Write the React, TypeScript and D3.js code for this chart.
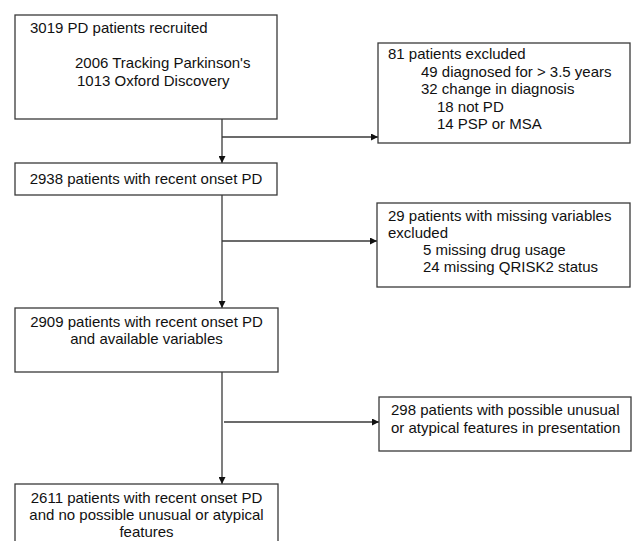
import * as d3 from "d3";
import { useEffect, useRef } from "react";

// box texts, one entry per printed line
const recruitedLines = ["3019 PD patients recruited", "2006 Tracking Parkinson's", "1013 Oxford Discovery"];
const excludedLines = ["81 patients excluded", "49 diagnosed for > 3.5 years", "32 change in diagnosis", "18 not PD", "14 PSP or MSA"];
const onsetLines = ["2938 patients with recent onset PD"];
const missingLines = ["29 patients with missing variables", "excluded", "5 missing drug usage", "24 missing QRISK2 status"];
const availableLines = ["2909 patients with recent onset PD", "and available variables"];
const atypicalLines = ["298 patients with possible unusual", "or atypical features in presentation"];
const finalLines = ["2611 patients with recent onset PD", "and no possible unusual or atypical", "features"];

type Box = {
  lines: string[];
  x: number;
  y: number;
  w: number;
  h: number;
  center?: boolean;
  baselines: number[]; // per line, relative to box top
  indents?: number[]; // text x offset per line, relative to box left
};

export default function App() {
  const svgRef = useRef<SVGSVGElement | null>(null);

  useEffect(() => {
    if (!svgRef.current) return;
    const width = 632;
    const height = 541;
    const stroke = "#3a3a3a";
    const mainX = 222;

    const boxes: Box[] = [
      { lines: recruitedLines, x: 15, y: 15, w: 262, h: 104, baselines: [18, 53, 71], indents: [15, 60, 62] },
      { lines: excludedLines, x: 378, y: 43, w: 252, h: 100, baselines: [16, 34, 51, 69, 86], indents: [10, 43, 43, 59, 59] },
      { lines: onsetLines, x: 15, y: 163, w: 262, h: 32, center: true, baselines: [21] },
      { lines: missingLines, x: 377, y: 203, w: 253, h: 84, baselines: [18, 35, 52, 69], indents: [11, 11, 46, 46] },
      { lines: availableLines, x: 15, y: 308, w: 263, h: 64, center: true, baselines: [19, 36] },
      { lines: atypicalLines, x: 379, y: 397, w: 252, h: 54, baselines: [18, 36], indents: [12, 12] },
      { lines: finalLines, x: 15, y: 484, w: 263, h: 80, center: true, baselines: [19, 36, 53] },
    ];

    // vertical trunk and side branches
    const trunk: [number, number, number, number][] = [
      [mainX, 119, mainX, 163],
      [mainX, 195, mainX, 308],
      [mainX, 372, mainX, 484],
    ];
    const branches: [number, number, number, number][] = [
      [mainX, 137, 378, 137],
      [mainX, 241, 377, 241],
      [224, 422, 379, 422],
    ];

    const svg = d3.select(svgRef.current);
    svg.selectAll("*").remove();
    svg.attr("width", width).attr("height", height);

    svg
      .append("defs")
      .append("marker")
      .attr("id", "arr")
      .attr("viewBox", "0 0 10 10")
      .attr("refX", 10)
      .attr("refY", 5)
      .attr("markerWidth", 8)
      .attr("markerHeight", 7)
      .attr("markerUnits", "userSpaceOnUse")
      .attr("orient", "auto")
      .append("path")
      .attr("d", "M0,0L10,5L0,10Z")
      .attr("fill", "#111");

    svg.append("rect").attr("width", width).attr("height", height).attr("fill", "#fff");

    const allLinks = [...trunk, ...branches];
    svg
      .append("g")
      .selectAll("line")
      .data(allLinks)
      .enter()
      .append("line")
      .attr("x1", (d) => d[0])
      .attr("y1", (d) => d[1])
      .attr("x2", (d) => d[2])
      .attr("y2", (d) => d[3])
      .attr("stroke", stroke)
      .attr("stroke-width", 1.3)
      .attr("marker-end", "url(#arr)");

    const g = svg
      .append("g")
      .selectAll("g")
      .data(boxes)
      .enter()
      .append("g")
      .attr("transform", (d) => `translate(${d.x},${d.y})`);

    g.append("rect")
      .attr("width", (d) => d.w)
      .attr("height", (d) => d.h)
      .attr("fill", "#fff")
      .attr("stroke", stroke)
      .attr("stroke-width", 1.3);

    g.each(function (b) {
      d3.select(this)
        .selectAll("text")
        .data(b.lines)
        .enter()
        .append("text")
        .attr("x", (_, i) => (b.center ? b.w / 2 : b.indents?.[i] ?? 10))
        .attr("y", (_, i) => b.baselines[i])
        .attr("text-anchor", b.center ? "middle" : "start")
        .attr("font-family", "'Liberation Sans', Arial, sans-serif")
        .attr("font-size", 15)
        .attr("fill", "#111")
        .text((t) => t);
    });
  }, []);

  return (
    <div style={{ position: "absolute", left: 0, top: 0, width: 632, height: 541, overflow: "hidden", background: "#fff" }}>
      <svg ref={svgRef} style={{ display: "block" }} />
    </div>
  );
}
